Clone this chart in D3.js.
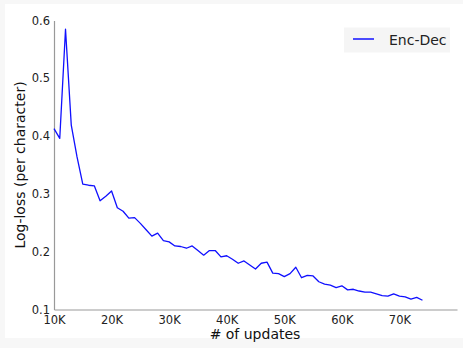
<!DOCTYPE html>
<html>
<head>
<meta charset="utf-8">
<script src="https://cdn.jsdelivr.net/npm/d3@7.9.0/dist/d3.min.js"></script>
<style>
  body { margin: 0; background: #f7f7f7; }
  svg { display: block; font-family: "DejaVu Sans", sans-serif; }
</style>
</head>
<body>
<svg id="chart" width="463" height="348"></svg>
<script>
// updates (in thousands) and log-loss per character
const updates = d3.range(10, 75);
const encDec = [
  0.413, 0.396, 0.585, 0.419, 0.364, 0.317, 0.315, 0.314, 0.288, 0.296,
  0.305, 0.276, 0.270, 0.258, 0.259, 0.249, 0.238, 0.227, 0.232, 0.219,
  0.217, 0.210, 0.209, 0.206, 0.210, 0.202, 0.194, 0.202, 0.202, 0.191,
  0.193, 0.187, 0.180, 0.184, 0.177, 0.170, 0.180, 0.182, 0.163, 0.162,
  0.157, 0.162, 0.173, 0.155, 0.159, 0.158, 0.148, 0.144, 0.142, 0.138,
  0.141, 0.134, 0.135, 0.132, 0.130, 0.130, 0.127, 0.124, 0.123, 0.127,
  0.123, 0.122, 0.118, 0.121, 0.116
];
const xTicks = [10, 20, 30, 40, 50, 60, 70];
const yTicks = [0.1, 0.2, 0.3, 0.4, 0.5, 0.6];
const seriesName = "Enc-Dec";

const svg = d3.select('#chart');

svg.append('rect')
    .attr('x', 5).attr('y', 4)
    .attr('width', 458).attr('height', 334)
    .attr('fill', '#fff');

const x = d3.scaleLinear().domain([10, 80]).range([54, 457]);
const y = d3.scaleLinear().domain([0.1, 0.6]).range([309.5, 20.5]);

// axes
const xAxis = svg.append('g')
    .attr('transform', `translate(0,${y(0.1)})`)
    .call(d3.axisBottom(x).tickValues(xTicks).tickSize(0).tickPadding(6)
        .tickFormat(d => d + 'K'));
const yAxis = svg.append('g')
    .attr('transform', `translate(${x(10)},0)`)
    .call(d3.axisLeft(y).tickValues(yTicks).tickSize(0).tickPadding(4)
        .tickFormat(d3.format('.1f')));

[xAxis, yAxis].forEach(a => {
    a.select('.domain').attr('stroke', '#999').attr('stroke-width', 1.2);
    a.selectAll('text').attr('font-size', 11.5).attr('fill', '#222')
        .attr('font-family', '"DejaVu Sans", sans-serif');
});

svg.append('text')
    .attr('x', 255).attr('y', 339)
    .attr('text-anchor', 'middle')
    .attr('font-size', 14).attr('fill', '#111')
    .text('# of updates');

svg.append('text')
    .attr('transform', 'translate(25,165) rotate(-90)')
    .attr('text-anchor', 'middle')
    .attr('font-size', 14).attr('fill', '#111')
    .text('Log-loss (per character)');

// line
const line = d3.line()
    .x((d, i) => x(updates[i]))
    .y(d => y(d));

svg.append('path')
    .datum(encDec)
    .attr('d', line)
    .attr('fill', 'none')
    .attr('stroke', '#1010ff')
    .attr('stroke-width', 1.3)
    .attr('stroke-linejoin', 'round');

// legend
const legend = svg.append('g').attr('transform', 'translate(344,27.5)');
legend.append('rect')
    .attr('width', 106).attr('height', 25)
    .attr('fill', '#f5f5f5');
legend.append('line')
    .attr('x1', 9).attr('x2', 30).attr('y1', 11.5).attr('y2', 11.5)
    .attr('stroke', '#1010ff').attr('stroke-width', 1.5);
legend.append('text')
    .attr('x', 45).attr('y', 17)
    .attr('font-size', 14).attr('fill', '#222')
    .text(seriesName);
</script>
</body>
</html>
